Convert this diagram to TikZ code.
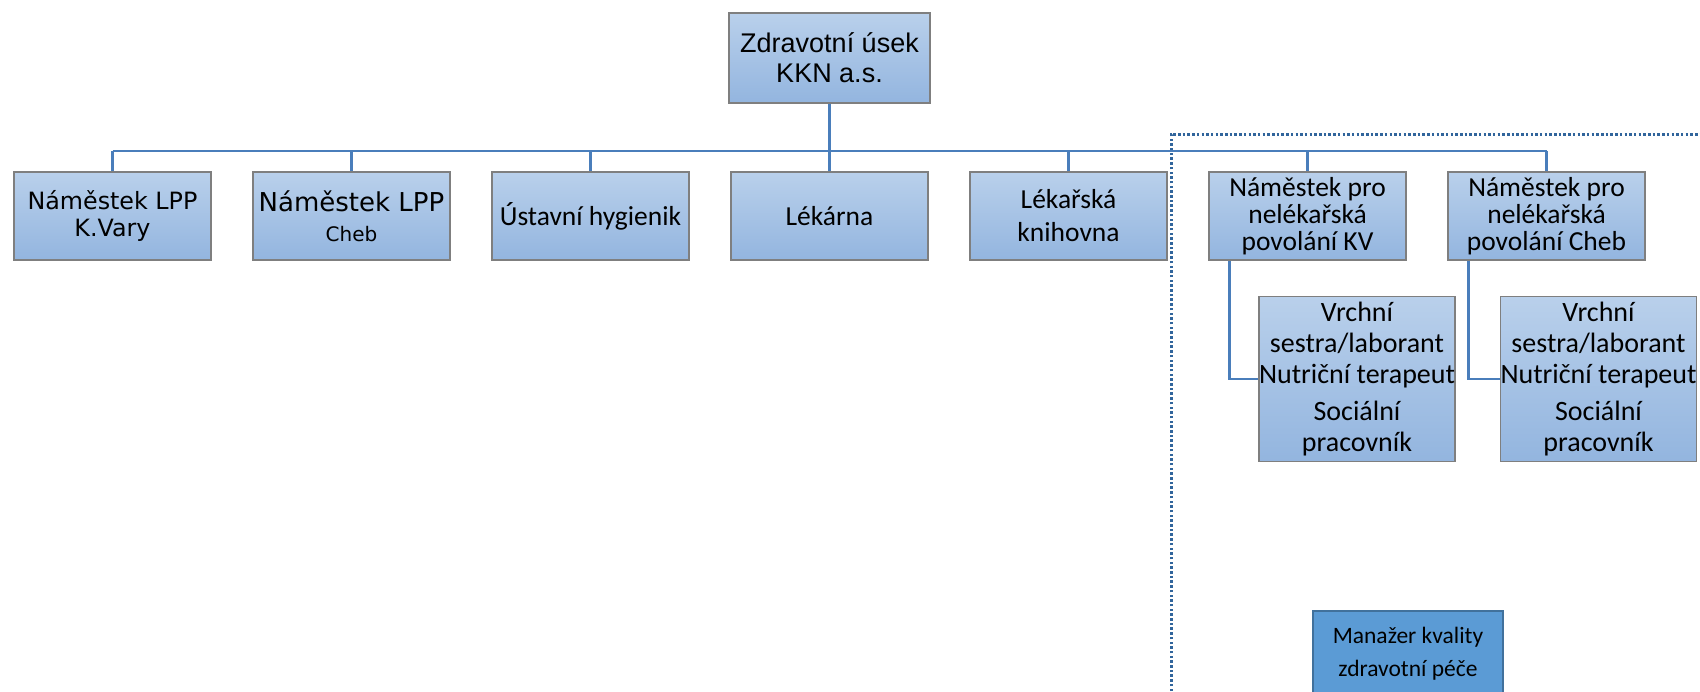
\documentclass[tikz,border=0pt]{standalone}
\usepackage{fontspec}
\setmainfont{Carlito}
\newfontfamily\arialfont{Liberation Sans}
\newfontfamily\verdanafont{DejaVu Sans}
\usetikzlibrary{positioning}
\definecolor{boxtop}{HTML}{B9D0EB}
\definecolor{boxbottom}{HTML}{93B5DF}
\definecolor{boxline}{HTML}{7F7F7F}
\definecolor{linka}{HTML}{4A7EBB}
\definecolor{tecky}{HTML}{31659C}
\definecolor{manazer}{HTML}{5B9BD5}
\definecolor{manazerline}{HTML}{41719C}
\tikzset{
	x=1pt, y=-1pt, % souradnice v pixelech
	node distance=239pt, % rozestup sloupcu
	box/.style={draw=boxline, line width=1.3pt, top color=boxtop, bottom color=boxbottom,
		minimum width=197pt, minimum height=88pt, inner sep=0pt, align=center,
		font=\fontsize{27.5}{33}\selectfont}, % modre obdelniky
	spoj/.style={draw=linka, line width=2.8pt}, % spojnice
	tecky/.style={draw=tecky, line width=3pt, dash pattern=on 2.5pt off 2.2pt}, % teckovany ramec
	kvalitabox/.style={draw=manazerline, line width=2.6pt, fill=manazer,
		minimum width=190pt, minimum height=86pt, align=center,
		font=\fontsize{23.5}{33}\selectfont}
}

\begin{document}
\begin{tikzpicture}
	\useasboundingbox (0,0) rectangle (1700,691);
	\node[box, minimum width=201pt, minimum height=90pt, font=\arialfont\fontsize{27}{30}\selectfont] (usek) at (829.5,58) {Zdravotní úsek\\KKN a.s.};
	\node[box, font=\verdanafont\fontsize{23.8}{27}\selectfont] (lppkv) at (112.5,216) {Náměstek LPP\\K.Vary};
	\node[box, right of=lppkv, font=\verdanafont\fontsize{26}{30}\selectfont] (lppcheb) {Náměstek LPP\\{\fontsize{20}{30}\selectfont Cheb}};
	\node[box, right of=lppcheb] (hygienik) {Ústavní hygienik};
	\node[box, right of=hygienik] (lekarna) {Lékárna};
	\node[box, right of=lekarna] (knihovna) {Lékařská\\knihovna};
	\node[box, right of=knihovna, font=\fontsize{27.5}{27}\selectfont] (nkv) {Náměstek pro\\nelékařská\\povolání KV};
	\node[box, right of=nkv, font=\fontsize{27.5}{27}\selectfont] (ncheb) {Náměstek pro\\nelékařská\\povolání Cheb};
	\node[box, minimum width=196pt, minimum height=165pt, font=\fontsize{28}{31}\selectfont] (sestrykv) at (1357,379) {Vrchní\\sestra/laborant\\Nutriční terapeut\\[6pt]Sociální\\pracovník};
	\node[box, minimum width=196pt, minimum height=165pt, font=\fontsize{28}{31}\selectfont] (sestrycheb) at (1598.5,379) {Vrchní\\sestra/laborant\\Nutriční terapeut\\[6pt]Sociální\\pracovník};
	\node[kvalitabox] (kvalita) at (1408,654) {Manažer kvality\\zdravotní péče};
	\coordinate (sbernice) at (829.5,151);
	\draw[tecky] (1171,691) -- (1171,134) -- (1700,134);
	\draw[spoj] (usek.south) -- (usek.south |- sbernice);
	\draw[spoj] (lppkv |- sbernice) -- (ncheb |- sbernice);
	\foreach \n in {lppkv, lppcheb, hygienik, lekarna, knihovna, nkv, ncheb}
		\draw[spoj] (\n |- sbernice) -- (\n.north);
	\draw[spoj, line width=2.3pt] ([xshift=21pt]nkv.south west) |- (sestrykv.west);
	\draw[spoj, line width=2.3pt] ([xshift=21pt]ncheb.south west) |- (sestrycheb.west);
\end{tikzpicture}
\end{document}
